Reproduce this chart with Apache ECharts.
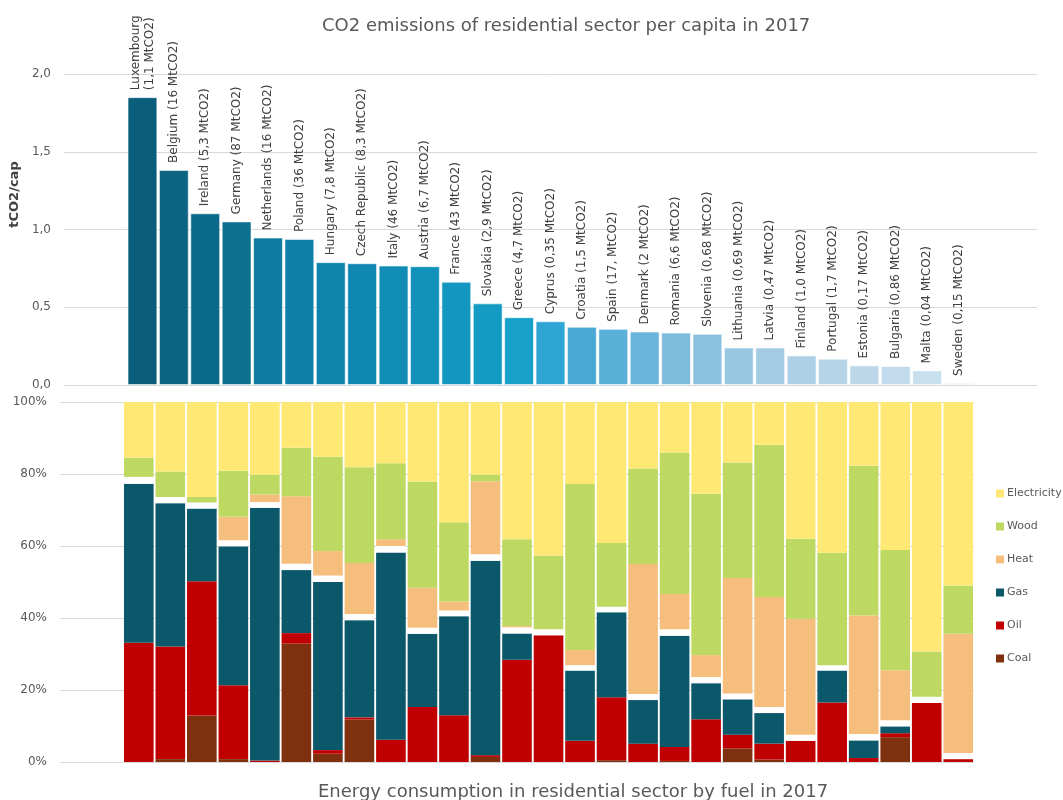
<!DOCTYPE html>
<html>
<head>
<meta charset="utf-8">
<script src="https://cdn.jsdelivr.net/npm/echarts@6/dist/echarts.min.js"></script>
<style>html,body{margin:0;padding:0;background:#fff}#c{width:1063px;height:800px}</style>
</head>
<body>
<div id="c"></div>
<script>
// ---------- data ----------
const countryLabels = [
  "Luxembourg\n(1,1 MtCO2)", "Belgium (16 MtCO2)", "Ireland (5,3 MtCO2)", "Germany (87 MtCO2)",
  "Netherlands (16 MtCO2)", "Poland (36 MtCO2)", "Hungary (7,8 MtCO2)", "Czech Republic (8,3 MtCO2)",
  "Italy (46 MtCO2)", "Austria (6,7 MtCO2)", "France (43 MtCO2)", "Slovakia (2,9 MtCO2)",
  "Greece (4,7 MtCO2)", "Cyprus (0,35 MtCO2)", "Croatia (1,5 MtCO2)", "Spain (17, MtCO2)",
  "Denmark (2 MtCO2)", "Romania (6,6 MtCO2)", "Slovenia (0,68 MtCO2)", "Lithuania (0,69 MtCO2)",
  "Latvia (0,47 MtCO2)", "Finland (1,0 MtCO2)", "Portugal (1,7 MtCO2)", "Estonia (0,17 MtCO2)",
  "Bulgaria (0,86 MtCO2)", "Malta (0,04 MtCO2)", "Sweden (0,15 MtCO2)"
];
const perCapita = [1.851, 1.383, 1.104, 1.052, 0.948, 0.939, 0.790, 0.783, 0.768, 0.764, 0.664, 0.525,
  0.436, 0.410, 0.374, 0.361, 0.344, 0.337, 0.329, 0.241, 0.241, 0.190, 0.169, 0.126, 0.122, 0.094, 0.013];
const barColors = ["#0a5e7c","#0b6482","#0b6a89","#0c708f","#0d7a9f","#0e7fa8","#0f83ac","#1087b0",
  "#118cb4","#1292ba","#1397c0","#149bc4","#16a0ca","#2ea5d4","#4aa8d5","#5bb0d8","#6ab5da","#7ebcdd",
  "#8ac1df","#98c7e2","#a3cbe4","#aed0e6","#b5d4e8","#bcd7ea","#c2dbec","#c8dfee","#d0e3f0"];

// energy shares (%) by fuel
const coal  = [0, 0.8, 12.9, 0.8, 0, 32.9, 2.3, 11.8, 0, 0, 0, 1.4, 0, 0, 0, 0.5, 0, 0.3, 0, 3.8, 0.7, 0, 0, 0, 6.9, 0, 0];
const oil   = [33.1, 31.3, 37.3, 20.5, 0.4, 2.9, 1.0, 0.6, 6.2, 15.3, 13.0, 0.5, 28.4, 35.2, 5.9, 17.5, 5.1, 3.9, 11.9, 3.8, 4.4, 5.9, 16.5, 1.1, 1.1, 16.4, 0.8];
const gas   = [44.2, 39.8, 20.2, 38.6, 70.2, 17.5, 46.7, 27.0, 52.0, 20.3, 27.5, 54.0, 7.3, 0, 19.5, 23.6, 12.1, 30.9, 10.0, 9.8, 8.5, 0, 8.9, 4.9, 1.9, 0, 0];
const other = [1.9, 1.7, 1.7, 1.7, 1.6, 1.8, 1.8, 1.7, 1.8, 1.7, 1.6, 1.8, 1.7, 1.7, 1.5, 1.5, 1.7, 1.8, 1.7, 1.6, 1.7, 1.7, 1.5, 1.8, 1.7, 1.7, 1.7];
const heat  = [0, 0, 0, 6.5, 2.1, 18.7, 6.8, 14.2, 1.9, 11.1, 2.5, 20.3, 0.4, 0, 4.2, 0, 36.1, 9.8, 6.1, 32.1, 30.5, 32.2, 0, 32.9, 13.9, 0, 33.1];
const wood  = [5.3, 7.1, 1.5, 12.8, 5.5, 13.5, 26.2, 26.6, 21.1, 29.5, 22.0, 1.8, 24.1, 20.4, 46.1, 17.7, 26.5, 39.3, 44.8, 32.1, 42.3, 22.2, 31.2, 41.6, 33.4, 12.6, 13.4];
const elec  = [15.5, 19.3, 26.4, 19.1, 20.2, 12.7, 15.2, 18.1, 17.0, 22.1, 33.4, 20.2, 38.1, 42.7, 22.8, 39.2, 18.5, 14.0, 25.5, 16.8, 11.9, 38.0, 41.9, 17.7, 41.1, 69.3, 51.0];

const topTicks = [0, 0.5, 1.0, 1.5, 2.0];
const bottomTicks = [0, 20, 40, 60, 80, 100];

// ---------- build ----------
const padL = ['_p1', '_p2'];
const topCats = padL.concat(countryLabels, ['_p3', '_p4']);
const botCats = padL.concat(countryLabels);
const topData = [null, null].concat(perCapita.map((v, i) => ({ value: v, itemStyle: { color: barColors[i] } })), [null, null]);
const pad = arr => [null, null].concat(arr);

const FONT = 'DejaVu Sans';
const grey = '#595959';

function stackSeries(name, arr, color) {
  return {
    name: name, type: 'bar', stack: 'fuel', xAxisIndex: 1, yAxisIndex: 1,
    barCategoryGap: '6%', data: pad(arr), itemStyle: { color: color }, silent: true,
    emphasis: { disabled: true }
  };
}

const chart = echarts.init(document.getElementById('c'), null, { renderer: 'canvas' });
chart.setOption({
  animation: false,
  backgroundColor: '#fff',
  textStyle: { fontFamily: FONT },
  title: [
    { text: 'CO2 emissions of residential sector per capita in 2017', left: 317, top: 12,
      textStyle: { fontFamily: FONT, fontSize: 18, fontWeight: 'normal', color: grey } },
    { text: 'Energy consumption in residential sector by fuel in 2017', left: 313, top: 778,
      textStyle: { fontFamily: FONT, fontSize: 18, fontWeight: 'normal', color: grey } }
  ],
  legend: {
    orient: 'vertical', left: 991, top: 483, itemWidth: 8, itemHeight: 8, itemGap: 22,
    icon: 'rect', data: ['Electricity', 'Wood', 'Heat', 'Gas', 'Oil', 'Coal'],
    textStyle: { fontFamily: FONT, fontSize: 11, color: grey, padding: [0, 0, 0, -2] },
    selectedMode: false
  },
  grid: [
    { left: 60, top: 74, width: 977, height: 311 },
    { left: 60, top: 402, width: 914, height: 360 }
  ],
  xAxis: [
    { type: 'category', gridIndex: 0, data: topCats, axisLine: { show: false }, axisTick: { show: false },
      axisLabel: { show: false } },
    { type: 'category', gridIndex: 1, data: botCats, axisLine: { show: false }, axisTick: { show: false },
      axisLabel: { show: false } }
  ],
  yAxis: [
    { type: 'value', gridIndex: 0, min: topTicks[0], max: topTicks[topTicks.length - 1], interval: 0.5,
      name: 'tCO2/cap', nameLocation: 'middle', nameGap: 36,
      nameTextStyle: { fontFamily: FONT, fontSize: 13, fontWeight: 'bold', color: '#404040', padding: [0, 0, 0, 70] },
      axisLine: { show: false }, axisTick: { show: false },
      axisLabel: { fontFamily: FONT, fontSize: 12, color: grey, margin: 13,
        formatter: v => v.toFixed(1).replace('.', ',') },
      splitLine: { lineStyle: { color: '#d9d9d9', width: 1 } } },
    { type: 'value', gridIndex: 1, min: bottomTicks[0], max: bottomTicks[bottomTicks.length - 1], interval: 20,
      axisLine: { show: false }, axisTick: { show: false },
      axisLabel: { fontFamily: FONT, fontSize: 12, color: grey, margin: 13, formatter: '{value}%' },
      splitLine: { lineStyle: { color: '#d9d9d9', width: 1 } } }
  ],
  series: [
    { name: 'tCO2/cap', type: 'bar', xAxisIndex: 0, yAxisIndex: 0, barCategoryGap: '5%', data: topData,
      itemStyle: { borderColor: 'rgba(255,255,255,0.55)', borderWidth: 1 },
      label: { show: true, position: 'top', rotate: 90, align: 'left', verticalAlign: 'middle', distance: 7,
        fontFamily: FONT, fontSize: 12, color: '#404040', lineHeight: 14,
        formatter: p => topCats[p.dataIndex] },
      silent: true },
    stackSeries('Coal', coal, '#7f300f'),
    stackSeries('Oil', oil, '#c00000'),
    stackSeries('Gas', gas, '#0b586a'),
    stackSeries('Other', other, '#ffffff'),
    stackSeries('Heat', heat, '#f6be7c'),
    stackSeries('Wood', wood, '#bdd962'),
    stackSeries('Electricity', elec, '#ffe874')
  ]
});
</script>
</body>
</html>
